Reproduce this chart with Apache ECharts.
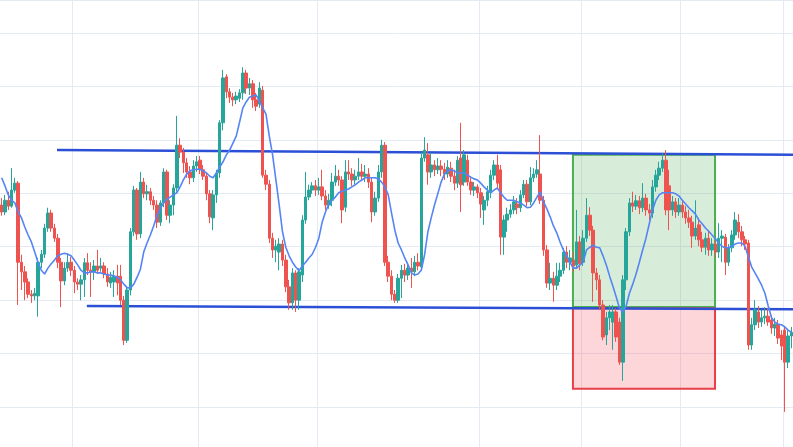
<!DOCTYPE html>
<html><head><meta charset="utf-8">
<script src="https://cdn.jsdelivr.net/npm/echarts/dist/echarts.min.js"></script>
<style>html,body{margin:0;padding:0;background:#fff;overflow:hidden}#c{width:793px;height:447px}</style>
</head><body><div id="c"></div>
<script>
// candles: [open, close, low, high]
const ohlc = [
[117.8,116.5,115.8,119.1],[116.5,118.7,115.9,119.7],[118.7,117.6,116.9,120.3],[117.6,120.6,117.3,124.7],[120.6,121.9,120.1,122.9],
[121.9,107.1,99.1,122.3],[107.1,105.3,101.9,108.5],[105.3,103.4,100.0,106.4],[103.4,101.1,100.4,104.1],[101.1,100.8,99.5,101.9],
[100.8,101.3,100.0,102.3],[100.8,107.1,96.9,107.9],[107.1,108.6,106.0,109.4],[108.6,113.5,107.9,114.3],[113.5,116.3,112.8,117.3],
[116.3,113.5,112.8,116.9],[113.5,111.6,110.9,114.3],[111.6,107.1,106.0,112.4],[107.1,103.6,98.7,107.9],[103.6,106.0,102.8,107.1],
[106.0,107.1,105.3,108.8],[107.1,105.6,104.5,108.1],[105.6,103.4,101.3,106.4],[103.4,103.0,101.9,104.1],[103.0,103.8,100.0,104.7],
[103.8,107.0,100.6,107.9],[107.0,105.6,104.7,108.8],[105.6,105.3,100.6,107.1],[105.3,106.4,103.8,107.5],[106.4,105.6,104.9,109.4],
[106.0,106.4,105.3,107.9],[106.4,104.9,104.1,107.1],[104.9,103.4,102.5,106.0],[103.2,104.3,102.3,105.3],[103.4,104.5,100.6,105.6],
[104.5,103.2,100.9,106.6],[104.5,100.0,99.1,106.6],[100.0,92.5,91.6,100.8],[92.5,101.9,92.0,102.3],[101.9,112.8,100.9,113.5],
[112.8,120.6,112.0,121.4],[120.6,112.4,111.3,121.0],[112.4,122.1,111.6,124.0],[122.1,119.9,119.1,122.9],[119.9,120.3,118.7,121.6],
[120.3,118.7,117.8,121.0],[118.7,117.8,116.9,119.5],[117.8,114.6,113.5,118.7],[114.6,118.2,113.9,118.7],[118.2,124.0,117.4,124.7],
[124.0,115.9,115.0,124.4],[115.9,117.8,114.4,118.7],[117.8,121.0,115.9,121.7],[121.0,129.0,120.3,134.5],[129.0,127.7,126.6,130.3],
[127.7,125.7,123.8,128.5],[125.7,124.0,122.9,126.6],[124.0,122.9,121.7,125.1],[122.9,125.1,122.1,126.2],[125.1,125.9,124.0,127.0],
[126.2,124.4,123.6,127.0],[124.4,123.2,122.5,125.3],[123.2,119.9,118.7,124.0],[119.9,115.6,114.4,120.6],[115.4,119.7,113.1,120.6],
[119.7,123.8,118.2,124.4],[123.8,133.2,122.9,133.7],[133.2,141.6,131.8,143.1],[141.8,139.0,137.8,142.3],[139.0,138.0,136.9,139.7],
[138.0,137.5,136.3,138.8],[137.5,138.2,136.7,139.0],[137.8,138.8,137.1,139.5],[138.8,142.5,137.5,143.6],[142.5,139.7,138.6,143.1],
[139.7,140.5,138.4,141.6],[140.5,137.5,136.0,141.2],[137.5,136.3,135.4,138.8],[136.7,139.7,136.0,140.8],[139.3,123.4,122.9,140.1],
[123.4,121.7,120.6,124.4],[121.7,111.6,110.7,122.5],[111.6,109.4,107.9,112.6],[109.4,110.1,107.1,111.3],[109.0,110.5,105.6,111.6],
[110.5,107.5,106.4,111.3],[107.5,102.5,101.5,108.5],[102.5,99.5,98.2,103.8],[99.5,105.1,98.2,106.0],[105.1,100.0,97.8,105.6],
[100.0,105.3,98.2,106.0],[104.7,115.0,103.4,115.9],[115.0,119.3,114.3,124.0],[119.3,120.6,118.7,121.6],[120.6,121.4,119.9,122.1],
[121.4,120.6,119.5,122.5],[120.6,121.2,119.7,122.9],[121.2,119.5,118.7,124.4],[119.5,117.8,116.9,120.6],[117.8,118.7,117.1,119.9],
[118.7,122.1,117.6,123.8],[122.1,123.2,121.4,125.3],[123.2,122.5,121.4,124.4],[122.5,116.9,114.4,123.2],[117.4,124.0,116.5,126.2],
[124.0,123.6,122.5,126.2],[123.6,122.5,121.4,124.7],[122.5,123.2,121.7,124.4],[123.2,124.0,122.5,126.6],[124.0,123.2,122.5,125.5],
[123.2,123.6,122.1,125.3],[123.6,122.1,121.0,124.7],[122.1,116.5,114.6,122.9],[116.5,119.1,115.8,120.3],[119.1,124.0,118.4,125.3],
[124.0,129.0,122.9,130.0],[129.0,107.1,106.4,129.6],[107.1,104.5,103.4,108.3],[104.5,101.1,100.0,105.6],[101.1,100.0,99.5,101.9],
[100.0,104.1,99.5,104.9],[104.1,105.6,100.4,106.6],[105.6,104.7,103.4,106.8],[104.7,106.0,103.8,107.1],[106.0,105.3,102.3,107.9],
[105.3,107.1,104.5,108.3],[107.1,106.4,105.6,108.8],[106.2,126.6,105.6,127.7],[126.6,128.1,125.9,130.5],[127.2,124.0,121.6,129.4],
[124.0,125.3,122.9,127.5],[125.3,124.4,123.2,126.2],[124.4,125.1,123.6,126.6],[125.1,124.5,123.2,126.2],[124.5,123.6,122.5,125.7],
[123.6,124.9,122.9,126.2],[124.7,123.2,122.1,125.9],[123.2,121.9,120.6,124.4],[121.9,126.2,121.0,127.0],[126.6,121.6,116.5,133.2],
[122.1,127.2,121.4,128.1],[126.2,122.1,121.4,127.2],[122.1,120.6,119.7,123.2],[120.6,121.2,119.5,122.1],[121.2,120.1,119.1,121.7],
[120.1,118.0,115.4,121.0],[116.9,118.7,114.1,119.5],[118.7,120.3,117.6,121.4],[120.3,123.4,119.1,124.4],[123.4,125.3,122.5,126.2],
[125.3,121.9,121.0,127.2],[124.4,111.8,108.5,125.3],[111.8,115.0,108.5,115.9],[115.0,116.1,112.8,117.3],[116.1,116.9,115.4,118.0],
[116.9,118.4,116.1,119.5],[118.0,117.3,116.1,119.1],[117.3,119.7,116.5,120.6],[119.7,121.7,119.1,122.5],[121.7,118.4,117.6,122.5],
[118.4,122.9,117.8,124.9],[122.9,123.6,122.1,124.7],[123.6,124.4,122.9,126.2],[123.6,118.7,118.0,130.9],[118.7,109.4,108.3,119.5],
[109.4,103.2,102.3,110.3],[103.2,104.1,101.9,107.0],[104.1,102.8,99.7,105.3],[102.8,104.5,101.9,107.0],[104.5,105.6,103.4,107.0],
[105.6,109.0,104.9,109.8],[109.0,107.1,106.0,110.1],[107.1,107.9,105.6,109.4],[107.5,106.4,105.3,109.0],[106.6,110.9,106.0,116.9],
[110.9,106.8,105.6,112.0],[107.1,111.6,106.4,113.1],[111.6,115.9,110.9,119.1],[115.9,113.1,112.0,117.4],[113.1,105.1,99.7,113.9],
[105.1,103.8,101.9,106.0],[103.8,99.1,98.2,104.7],[99.1,93.1,92.5,100.0],[93.5,96.7,91.6,97.8],[96.7,97.8,94.4,99.1],
[95.9,97.8,90.7,99.1],[97.8,93.1,92.2,98.5],[95.9,88.4,87.9,96.7],[88.4,103.8,84.9,104.7],[103.8,112.8,101.9,113.5],
[112.8,118.2,112.0,119.1],[118.2,117.6,116.5,120.3],[117.6,118.6,116.9,119.7],[118.6,117.3,116.1,119.5],[117.3,119.1,116.5,121.9],
[119.1,116.9,115.8,119.9],[116.9,116.3,115.0,118.0],[116.3,121.2,115.4,122.5],[121.2,123.4,120.3,124.4],[123.4,124.7,122.5,125.9],
[124.7,126.2,124.0,127.5],[126.2,116.9,115.9,128.1],[121.4,116.9,113.1,124.4],[116.9,118.4,115.8,119.5],[118.4,116.5,115.4,119.1],
[116.5,117.8,115.8,119.1],[117.8,116.5,115.4,118.7],[116.5,115.4,114.3,117.6],[115.4,114.6,113.5,116.9],[114.6,112.0,109.8,115.8],
[112.0,113.5,111.3,118.7],[114.1,111.3,110.1,115.4],[111.3,109.9,109.0,112.8],[109.9,111.6,108.5,112.6],[111.6,109.4,108.3,113.1],
[109.4,110.5,108.3,111.6],[110.5,109.0,108.1,111.3],[109.0,111.6,107.9,114.4],[111.6,112.0,107.1,113.1],[111.8,107.1,104.7,112.4],
[107.1,109.8,106.4,110.5],[109.8,112.2,109.0,113.1],[112.2,115.0,111.3,116.5],[114.6,112.8,111.6,116.1],[112.8,111.3,110.1,113.9],
[111.3,110.5,109.4,112.0],[110.7,91.6,90.7,111.3],[91.6,95.4,90.7,96.7],[95.4,98.2,94.4,100.0],[97.8,95.9,94.8,98.9],
[95.9,96.7,95.0,98.2],[96.7,97.0,95.5,98.7],[97.0,95.9,95.2,98.5],[96.3,94.8,93.7,97.2],[94.8,95.5,93.3,96.7],
[95.5,92.9,91.8,96.3],[93.5,91.4,88.8,94.4],[94.4,88.4,79.1,95.2],[88.4,93.3,87.3,94.4],[93.3,94.0,91.0,95.0]
];

// moving average
const ma = [
122.9,121.4,119.7,118.7,118.2,116.5,115.4,113.7,112.2,110.9,
109.0,107.1,105.6,104.9,106.0,106.8,107.5,108.3,108.6,108.8,
108.6,108.3,107.5,106.6,105.6,105.1,105.1,105.3,105.3,105.1,
105.1,104.9,104.7,104.7,104.5,104.3,103.8,103.0,102.3,102.3,
103.0,104.3,105.8,109.0,110.7,112.2,113.9,115.8,117.1,118.2,
118.9,119.3,119.7,120.1,121.2,122.5,123.6,124.2,124.4,124.5,
124.5,124.2,123.8,123.2,122.9,123.8,124.9,125.9,127.2,128.1,
129.4,130.7,133.3,136.0,137.1,138.0,138.2,138.4,137.3,136.0,
134.8,130.7,127.2,122.5,117.8,112.8,109.9,108.3,107.1,106.2,
105.5,106.4,107.1,107.9,108.6,109.9,111.6,114.6,116.5,118.0,
118.7,119.3,120.1,120.4,120.6,120.8,121.2,121.6,122.1,122.5,
122.9,122.9,122.9,122.9,122.7,122.1,121.2,119.7,116.3,113.1,
110.7,109.4,107.9,106.6,105.1,104.7,104.9,105.6,108.5,112.8,
115.4,117.8,119.9,122.1,123.6,124.2,124.4,124.2,123.8,123.8,
123.8,123.4,123.0,122.7,122.5,121.9,121.2,120.6,120.1,120.6,
121.0,120.1,119.3,118.7,118.7,118.7,118.4,118.2,117.8,117.3,
117.4,118.2,119.3,120.3,118.4,117.1,115.6,113.9,112.6,110.9,
109.4,108.3,107.1,106.0,106.0,106.6,107.1,109.4,109.9,110.3,
109.9,109.8,108.3,106.6,104.5,102.6,100.6,98.5,97.8,98.9,
101.3,103.0,104.9,107.1,109.4,111.6,114.3,116.9,118.7,119.7,
120.1,120.1,120.1,120.1,119.9,119.5,118.7,118.0,117.3,116.7,
116.1,115.0,114.3,113.5,112.9,112.2,111.5,110.7,110.1,109.8,
109.8,110.1,110.5,110.7,110.7,110.1,108.1,106.2,105.1,104.0,
102.8,101.3,98.9,96.7,95.9,95.5,95.4,95.0,94.4,94.0
];

// annotation levels [candle position, price]
const upperLevel = [[17.25,128.1],[240,127.2]];
const lowerLevel = [[26.3,98.9],[240,98.3]];
const targetZone = [[173.4,127.2],[216.4,98.7]];
const stopZone = [[173.4,98.5],[216.4,83.4]];
const verticalGridAt = [22,60,96,145,176,206,237];
const priceMin = 72.52, priceMax = 156.18;

const categories = ohlc.map((d,i)=>'C'+(i+1));
const gridColor = '#e4eaf3';

const chart = echarts.init(document.getElementById('c'), null, {renderer:'canvas'});
chart.setOption({
  animation:false,
  backgroundColor:'#ffffff',
  grid:{left:0,right:0,top:0,bottom:0,containLabel:false},
  xAxis:[
    {type:'category',data:categories,boundaryGap:true,
     axisLine:{show:false},axisTick:{show:false},axisLabel:{show:false},
     splitLine:{show:true,interval:(i)=>verticalGridAt.includes(i),lineStyle:{color:gridColor,width:1}}},
    {type:'value',min:0,max:ohlc.length,show:false,splitLine:{show:false}}
  ],
  yAxis:{type:'value',min:priceMin,max:priceMax,splitNumber:8,
     axisLine:{show:false},axisTick:{show:false},axisLabel:{show:false},
     splitLine:{show:true,lineStyle:{color:gridColor,width:1}}},
  graphic:[{type:'line',shape:{x1:0,y1:0.5,x2:793,y2:0.5},style:{stroke:gridColor,lineWidth:1},z:0}],
  series:[
    {type:'line',xAxisIndex:1,data:upperLevel,symbol:'none',z:2,silent:true,
     lineStyle:{color:'#2b50d6',width:2.5}},
    {type:'line',xAxisIndex:1,data:lowerLevel,symbol:'none',z:2,silent:true,
     lineStyle:{color:'#2b50d6',width:2.5}},
    {type:'line',xAxisIndex:1,data:[],z:3,silent:true,
     markArea:{silent:true,data:[
       [{coord:targetZone[0],itemStyle:{color:'rgba(76,175,80,0.22)',borderColor:'#4caf50',borderWidth:2}},{coord:targetZone[1]}],
       [{coord:stopZone[0],itemStyle:{color:'rgba(244,67,80,0.22)',borderColor:'#e8404a',borderWidth:2}},{coord:stopZone[1]}]
     ]}},
    {type:'candlestick',data:ohlc,barWidth:3,z:4,
     itemStyle:{color:'#26a69a',color0:'#ef5350',borderColor:'#26a69a',borderColor0:'#ef5350',borderWidth:1}},
    {type:'line',data:ma,symbol:'none',z:5,smooth:false,
     lineStyle:{color:'#5585f5',width:1.6}}
  ]
});
</script></body></html>
